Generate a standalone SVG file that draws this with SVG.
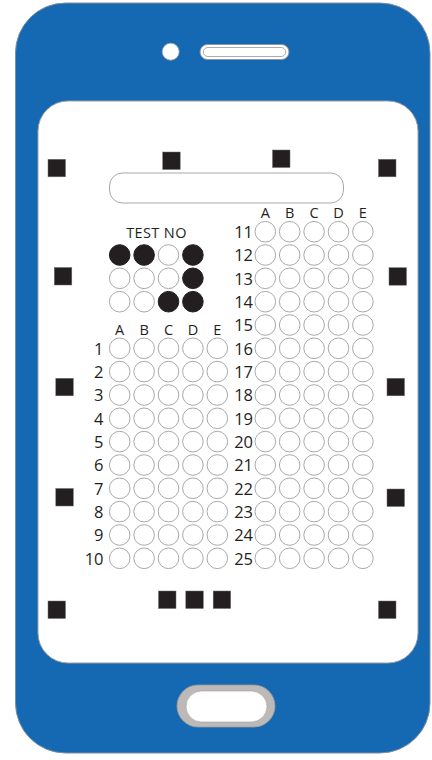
<svg xmlns="http://www.w3.org/2000/svg" xmlns:xlink="http://www.w3.org/1999/xlink" width="432" height="760" viewBox="0 0 432 760">
<style>
.b{fill:#fff;stroke:#a7a9ac;stroke-width:1}
.f{fill:#231f20;stroke:#231f20;stroke-width:1}
.m{fill:#231f20;stroke:#6d6e71;stroke-width:0.5}
.n{font-family:"Open Sans","Liberation Sans",sans-serif;font-size:16.5px;fill:#231f20;text-anchor:end}
.l{font-family:"Open Sans","Liberation Sans",sans-serif;font-size:14.5px;fill:#231f20;text-anchor:middle}
</style>
<defs>
<g id="row5">
<circle class="b" cx="0" cy="0" r="10.3"/>
<circle class="b" cx="24.4" cy="0" r="10.3"/>
<circle class="b" cx="48.8" cy="0" r="10.3"/>
<circle class="b" cx="73.2" cy="0" r="10.3"/>
<circle class="b" cx="97.6" cy="0" r="10.3"/>
</g>
</defs>
<g id="phone">
<rect x="15.5" y="3" width="414.5" height="750" rx="50" fill="#1569b3" stroke="#7f8fa0" stroke-width="1"/>
<rect x="38" y="101" width="380" height="562" rx="30" fill="#fff" stroke="#9d9fa2" stroke-width="1"/>
<circle cx="170.7" cy="51.7" r="8.5" fill="#fff" stroke="#9d9fa2" stroke-width="0.8"/>
<rect x="200" y="44.5" width="89" height="15" rx="7.5" fill="#fff" stroke="#939598" stroke-width="1"/>
<rect x="203.3" y="47.5" width="82.4" height="9" rx="4.5" fill="none" stroke="#939598" stroke-width="0.8"/>
<rect x="177" y="685" width="98" height="42" rx="21" fill="#bdb9b8" stroke="#9d9a99" stroke-width="0.8"/>
<rect x="186" y="691" width="81" height="31" rx="15.5" fill="#fff" stroke="#9d9a99" stroke-width="0.6"/>
</g>
<g id="markers">
<rect class="m" x="48" y="159.3" width="17.5" height="17.5"/>
<rect class="m" x="54.3" y="267.5" width="17.5" height="17.5"/>
<rect class="m" x="55.8" y="378.3" width="17.5" height="17.5"/>
<rect class="m" x="55.8" y="488.5" width="17.5" height="17.5"/>
<rect class="m" x="48" y="601" width="17.5" height="17.5"/>
<rect class="m" x="378.5" y="159.3" width="17.5" height="17.5"/>
<rect class="m" x="389" y="267.7" width="17.5" height="17.5"/>
<rect class="m" x="387" y="378.3" width="17.5" height="17.5"/>
<rect class="m" x="387" y="489" width="17.5" height="17.5"/>
<rect class="m" x="378.5" y="601" width="17.5" height="17.5"/>
<rect class="m" x="162.7" y="152" width="17.5" height="17.5"/>
<rect class="m" x="272.5" y="150" width="17.5" height="17.5"/>
<rect class="m" x="158.5" y="591" width="17.5" height="17.5"/>
<rect class="m" x="185.8" y="591" width="17.5" height="17.5"/>
<rect class="m" x="213.2" y="591" width="17.5" height="17.5"/>
</g>
<g id="namebox">
<rect x="109.5" y="173" width="234" height="30" rx="13" fill="#fff" stroke="#a7a9ac" stroke-width="1"/>
</g>
<g id="testno">
<text class="l" x="156.5" y="238" font-size="15.5" letter-spacing="0.4">TEST NO</text>
<circle class="f" cx="119.7" cy="255" r="10.3"/>
<circle class="f" cx="144.1" cy="255" r="10.3"/>
<circle class="b" cx="168.5" cy="255" r="10.3"/>
<circle class="f" cx="192.9" cy="255" r="10.3"/>
<circle class="b" cx="119.7" cy="278.3" r="10.3"/>
<circle class="b" cx="144.1" cy="278.3" r="10.3"/>
<circle class="b" cx="168.5" cy="278.3" r="10.3"/>
<circle class="f" cx="192.9" cy="278.3" r="10.3"/>
<circle class="b" cx="119.7" cy="301.7" r="10.3"/>
<circle class="b" cx="144.1" cy="301.7" r="10.3"/>
<circle class="f" cx="168.5" cy="301.7" r="10.3"/>
<circle class="f" cx="192.9" cy="301.7" r="10.3"/>
</g>
<g id="headers-left">
<text class="l" x="119.7" y="334.5">A</text>
<text class="l" x="144.1" y="334.5">B</text>
<text class="l" x="168.5" y="334.5">C</text>
<text class="l" x="192.9" y="334.5">D</text>
<text class="l" x="217.3" y="334.5">E</text>
</g>
<g id="headers-right">
<text class="l" x="265.3" y="218.3">A</text>
<text class="l" x="289.7" y="218.3">B</text>
<text class="l" x="314.1" y="218.3">C</text>
<text class="l" x="338.5" y="218.3">D</text>
<text class="l" x="362.9" y="218.3">E</text>
</g>
<g id="q1"><text class="n" x="103.5" y="354.5">1</text><use xlink:href="#row5" x="119.7" y="348.3"/></g>
<g id="q2"><text class="n" x="103.5" y="377.8">2</text><use xlink:href="#row5" x="119.7" y="371.6"/></g>
<g id="q3"><text class="n" x="103.5" y="401.2">3</text><use xlink:href="#row5" x="119.7" y="395"/></g>
<g id="q4"><text class="n" x="103.5" y="424.5">4</text><use xlink:href="#row5" x="119.7" y="418.3"/></g>
<g id="q5"><text class="n" x="103.5" y="447.8">5</text><use xlink:href="#row5" x="119.7" y="441.6"/></g>
<g id="q6"><text class="n" x="103.5" y="471.2">6</text><use xlink:href="#row5" x="119.7" y="465"/></g>
<g id="q7"><text class="n" x="103.5" y="494.5">7</text><use xlink:href="#row5" x="119.7" y="488.3"/></g>
<g id="q8"><text class="n" x="103.5" y="517.8">8</text><use xlink:href="#row5" x="119.7" y="511.6"/></g>
<g id="q9"><text class="n" x="103.5" y="541.2">9</text><use xlink:href="#row5" x="119.7" y="535"/></g>
<g id="q10"><text class="n" x="103.5" y="564.5">10</text><use xlink:href="#row5" x="119.7" y="558.3"/></g>
<g id="q11"><text class="n" x="253" y="237.9">11</text><use xlink:href="#row5" x="265.3" y="231.7"/></g>
<g id="q12"><text class="n" x="253" y="261.2">12</text><use xlink:href="#row5" x="265.3" y="255"/></g>
<g id="q13"><text class="n" x="253" y="284.5">13</text><use xlink:href="#row5" x="265.3" y="278.3"/></g>
<g id="q14"><text class="n" x="253" y="307.9">14</text><use xlink:href="#row5" x="265.3" y="301.7"/></g>
<g id="q15"><text class="n" x="253" y="331.2">15</text><use xlink:href="#row5" x="265.3" y="325"/></g>
<g id="q16"><text class="n" x="253" y="354.5">16</text><use xlink:href="#row5" x="265.3" y="348.3"/></g>
<g id="q17"><text class="n" x="253" y="377.8">17</text><use xlink:href="#row5" x="265.3" y="371.6"/></g>
<g id="q18"><text class="n" x="253" y="401.2">18</text><use xlink:href="#row5" x="265.3" y="395"/></g>
<g id="q19"><text class="n" x="253" y="424.5">19</text><use xlink:href="#row5" x="265.3" y="418.3"/></g>
<g id="q20"><text class="n" x="253" y="447.8">20</text><use xlink:href="#row5" x="265.3" y="441.6"/></g>
<g id="q21"><text class="n" x="253" y="471.2">21</text><use xlink:href="#row5" x="265.3" y="465"/></g>
<g id="q22"><text class="n" x="253" y="494.5">22</text><use xlink:href="#row5" x="265.3" y="488.3"/></g>
<g id="q23"><text class="n" x="253" y="517.8">23</text><use xlink:href="#row5" x="265.3" y="511.6"/></g>
<g id="q24"><text class="n" x="253" y="541.2">24</text><use xlink:href="#row5" x="265.3" y="535"/></g>
<g id="q25"><text class="n" x="253" y="564.5">25</text><use xlink:href="#row5" x="265.3" y="558.3"/></g>
<g id="connectors"/>
</svg>
